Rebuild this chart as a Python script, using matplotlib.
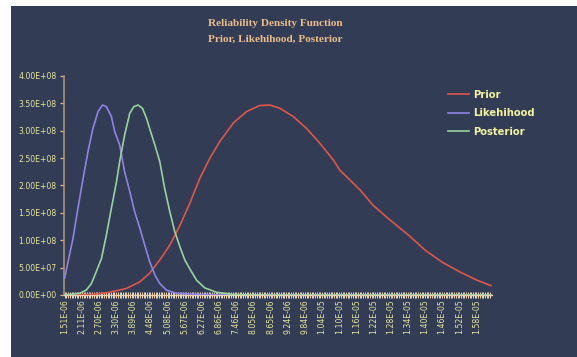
import numpy as np
import matplotlib
matplotlib.use("Agg")
import matplotlib.pyplot as plt
from matplotlib.patches import Rectangle
from matplotlib.ticker import FixedLocator, FuncFormatter

# ---- data (x in units of 1e-6, y in units of 1e8) ----
prior_x = [1.51, 2.48, 3.07, 3.65, 4.12, 4.46, 4.81, 5.16, 5.51, 5.85, 6.20, 6.55,
           6.89, 7.36, 7.82, 8.28, 8.63, 8.98, 9.44, 9.91, 10.37, 10.83, 11.06,
           11.76, 12.21, 12.80, 13.43, 14.02, 14.61, 15.23, 15.82, 16.31]
prior_y = [0.0, 0.01, 0.05, 0.12, 0.24, 0.40, 0.64, 0.91, 1.27, 1.67, 2.13, 2.50,
           2.80, 3.14, 3.35, 3.46, 3.47, 3.41, 3.26, 3.04, 2.77, 2.47, 2.28,
           1.92, 1.64, 1.37, 1.10, 0.82, 0.60, 0.42, 0.27, 0.17]

like_x = [1.51, 1.80, 1.97, 2.15, 2.32, 2.49, 2.67, 2.82, 2.96, 3.13, 3.25, 3.42,
          3.59, 3.77, 3.94, 4.12, 4.29, 4.46, 4.64, 4.81, 5.04, 5.39, 6.20, 7.59,
          16.31]
like_y = [0.31, 1.035, 1.58, 2.13, 2.62, 3.04, 3.35, 3.47, 3.44, 3.26, 2.98, 2.74,
          2.25, 1.89, 1.52, 1.22, 0.91, 0.61, 0.37, 0.21, 0.09, 0.03, 0.01, 0.0,
          0.0]

post_x = [1.51, 1.68, 2.03, 2.26, 2.44, 2.61, 2.79, 2.96, 3.13, 3.31, 3.42, 3.59,
          3.77, 3.91, 4.06, 4.21, 4.35, 4.46, 4.64, 4.81, 4.98, 5.16, 5.33, 5.51,
          5.68, 5.85, 6.09, 6.37, 6.78, 7.35, 8.28, 16.31]
post_y = [0.0, 0.01, 0.03, 0.09, 0.21, 0.43, 0.67, 1.10, 1.58, 2.07, 2.44, 2.92,
          3.32, 3.44, 3.47, 3.41, 3.23, 3.04, 2.74, 2.44, 1.95, 1.52, 1.16, 0.88,
          0.64, 0.48, 0.27, 0.13, 0.05, 0.01, 0.0, 0.0]

x_labels = ["1.51E-06", "2.11E-06", "2.70E-06", "3.30E-06", "3.89E-06", "4.48E-06",
            "5.08E-06", "5.67E-06", "6.27E-06", "6.86E-06", "7.46E-06", "8.05E-06",
            "8.65E-06", "9.24E-06", "9.84E-06", "1.04E-05", "1.10E-05", "1.16E-05",
            "1.22E-05", "1.28E-05", "1.34E-05", "1.40E-05", "1.46E-05", "1.52E-05",
            "1.58E-05"]
x_label_start = 1.51
x_label_step = 0.5954

title_line1 = "Reliability Density Function"
title_line2 = "Prior, Likehihood, Posterior"
series_names = ["Prior", "Likehihood", "Posterior"]

# ---- style ----
BG = "#323d55"
RED = "#e05548"
PURPLE = "#8f82e6"
GREEN = "#96d49c"
TXT = "#e6e69a"
TITLE_C = "#e8bc8c"

W, H = 577, 357
fig = plt.figure(figsize=(W / 100, H / 100), dpi=100, facecolor="white")
bg_rect = Rectangle((11 / W, 0), 1 - 11 / W, 1 - 6 / H,
                    transform=fig.transFigure, facecolor=BG,
                    edgecolor="none", zorder=-10)
fig.patches.append(bg_rect)

ax = fig.add_axes([63.5 / W, 1 - 295 / H, (491.7 - 63.5) / W, (295 - 76) / H])
ax.set_facecolor(BG)
ax.set_zorder(1)

scale_x = 1e-6
scale_y = 1e8
for xs, ys, c, n in [(prior_x, prior_y, RED, series_names[0]),
                     (like_x, like_y, PURPLE, series_names[1]),
                     (post_x, post_y, GREEN, series_names[2])]:
    ax.plot(np.array(xs) * scale_x, np.array(ys) * scale_y, color=c, lw=1.2,
            label=n, solid_joinstyle="round", zorder=3)

ax.set_xlim((x_label_start - 0.04) * scale_x, 16.33 * scale_x)
ax.set_ylim(0, 4e8)

for s in ["top", "right"]:
    ax.spines[s].set_visible(False)
ax.spines["left"].set_color("#a89078")
ax.spines["left"].set_linewidth(1.2)
ax.spines["bottom"].set_color("#e8d0b0")
ax.spines["bottom"].set_linewidth(1.0)

yt = np.arange(0, 4.01e8, 0.5e8)
ax.yaxis.set_major_locator(FixedLocator(yt))
ax.yaxis.set_major_formatter(FuncFormatter(lambda v, p: "{:.2E}".format(v)))
ax.tick_params(axis="y", colors="#e8b880", labelcolor=TXT, labelsize=5.6,
               length=3, width=0.9, direction="out", pad=2)

major_pos = [(x_label_start + k * x_label_step) * scale_x for k in range(len(x_labels))]
ax.xaxis.set_major_locator(FixedLocator(major_pos))
ax.set_xticklabels(x_labels, rotation=90, color=TXT, fontsize=5.6)
minor_pos = np.arange(x_label_start, 16.33, x_label_step / 10) * scale_x
ax.xaxis.set_minor_locator(FixedLocator(minor_pos))
ax.tick_params(axis="x", which="both", colors="#f0d8b8", direction="inout",
               length=4, width=0.7, pad=1)
ax.tick_params(axis="x", which="major", labelcolor=TXT)

for txt, ypx in [(title_line1, 23), (title_line2, 39)]:
    fig.text(275 / W, 1 - ypx / H, txt, ha="center", va="center",
             fontfamily="Liberation Serif", fontweight="bold", fontsize=8.1,
             color=TITLE_C)

leg = ax.legend(loc="upper left",
                bbox_to_anchor=((444 - 63.5) / (491.7 - 63.5), (295 - 86) / 219),
                frameon=False, fontsize=7.2, handlelength=2.1, handletextpad=0.45,
                labelspacing=0.85, borderaxespad=0)
for t in leg.get_texts():
    t.set_color("#f2f2a0")
    t.set_fontweight("bold")
leg.set_clip_on(False)

fig.savefig("out.png", dpi=100, facecolor="white")
